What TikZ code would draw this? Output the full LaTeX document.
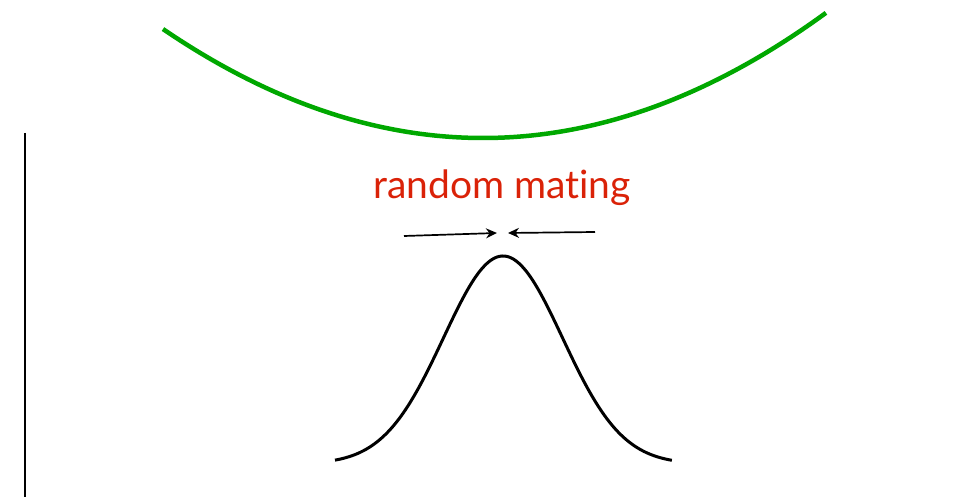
\documentclass[tikz,border=0pt]{standalone}
\usepackage{fontspec}
\setmainfont[Ligatures=NoCommon]{Lato}
\usetikzlibrary{arrows.meta}
\definecolor{fitgreen}{RGB}{0,168,0}
\definecolor{matered}{RGB}{218,34,8}
\tikzset{
  fitness/.style={draw=fitgreen, line width=4.5pt},
  bell/.style={draw=black, line width=3pt},
  axisline/.style={draw=black, line width=2pt},
  pusharrow/.style={draw=black, line width=1.7pt, -{Stealth[length=11pt,width=10pt]}},
  label/.style={text=matered, font=\fontsize{39}{44}\selectfont, inner sep=0pt, anchor=base}
}
\begin{document}
\begin{tikzpicture}[x=1pt,y=-1pt]
\useasboundingbox (0,0) rectangle (954,497);
% vertical axis
\coordinate (axtop) at (25,133);
\coordinate (axbot) at (25,497);
\draw[axisline] (axtop) -- (axbot);
% fitness curve (t = (x-483)/100)
\draw[fitness, domain=-3.20:3.43, samples=120, smooth, variable=\t]
  plot ({483+100*\t},{138-10.64*\t*\t});
% label
\node[label] (lbl) at (502,199) {random mating};
% arrows
\coordinate (la) at (404,236);
\coordinate (lt) at (497,233);
\coordinate (ra) at (595,232);
\coordinate (rt) at (508,233);
\draw[pusharrow] (la) -- (lt);
\draw[pusharrow] (ra) -- (rt);
% bell curve (t = (x-503)/100)
\draw[bell, domain=-1.68:1.69, samples=120, smooth, variable=\t]
  plot ({503+100*\t},{464-208*exp(-\t*\t/0.708)});
\end{tikzpicture}
\end{document}
